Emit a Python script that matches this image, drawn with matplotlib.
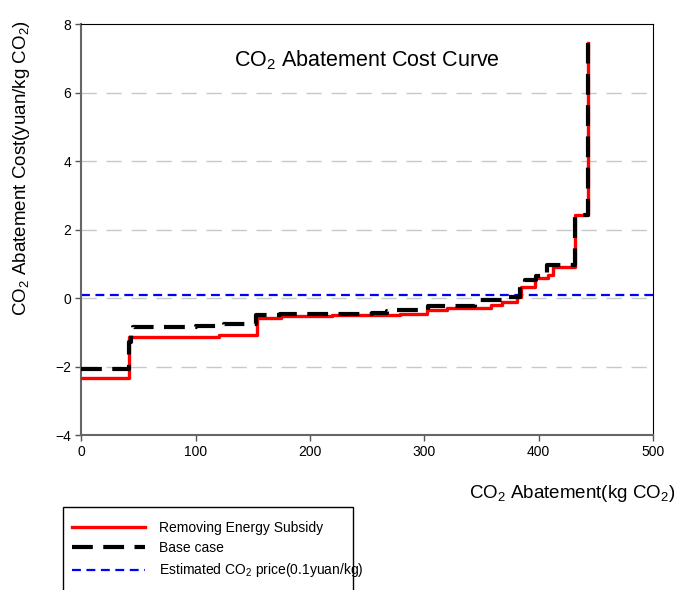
import numpy as np
import matplotlib
matplotlib.use("Agg")
import matplotlib.pyplot as plt
from matplotlib.patches import Rectangle

plt.rcParams["font.family"] = ["Liberation Sans", "DejaVu Sans"]
plt.rcParams["mathtext.fontset"] = "custom"
plt.rcParams["mathtext.rm"] = "Liberation Sans"
plt.rcParams["mathtext.it"] = "Liberation Sans"

# step curves: abatement where each level starts, and the cost level
subsidy_x = [0, 41.5, 120, 154, 175, 219, 279, 302, 320, 358, 368, 381, 385, 397, 408, 413, 432, 443]
subsidy_y = [-2.33, -1.13, -1.08, -0.57, -0.52, -0.50, -0.45, -0.36, -0.30, -0.20, -0.10, 0.02,
             0.32, 0.60, 0.68, 0.90, 2.43, 7.45]

base_x = [0, 41.5, 43, 45, 100, 125, 153, 174, 254, 267, 276, 303, 344, 370, 384, 388, 398, 407, 432, 443]
base_y = [-2.06, -1.28, -1.05, -0.84, -0.81, -0.76, -0.48, -0.45, -0.43, -0.38, -0.35, -0.23,
          -0.06, 0.04, 0.38, 0.53, 0.64, 0.98, 2.43, 7.45]

co2_price = 0.1

x_ticks = [0, 100, 200, 300, 400, 500]
y_ticks = [-4, -2, 0, 2, 4, 6, 8]
grid_y = [-2, 0, 2, 4, 6]

labels = ["Removing Energy Subsidy", "Base case", "Estimated CO$_2$ price(0.1yuan/kg)"]


def main():
    fig = plt.figure(figsize=(6.78, 5.9), dpi=100)
    ax = fig.add_axes([0.120, 0.2627, 0.843, 0.696])

    for gy in grid_y:
        ax.axhline(gy, color="#c8c8c8", lw=1.0, dashes=(11, 7), zorder=0)

    l_price = ax.axhline(co2_price, color="#0000ff", lw=1.6, dashes=(4, 2.5), zorder=2)
    l_sub, = ax.plot(subsidy_x, subsidy_y, drawstyle="steps-post", color="#ff0000", lw=2.4, zorder=3)
    l_base, = ax.plot(base_x, base_y, drawstyle="steps-post", color="black", lw=3.0,
                      dashes=(5, 2.5), zorder=4)

    ax.set_xlim(0, 500)
    ax.set_ylim(-4, 8)
    ax.set_xticks(x_ticks)
    ax.set_yticks(y_ticks)
    ax.tick_params(direction="out", length=4, width=1, labelsize=10, colors="#555555",
                   labelcolor="black", top=False, right=False)
    for side in ["left", "bottom"]:
        ax.spines[side].set_color("#666666")
        ax.spines[side].set_linewidth(1.5)
    for side in ["top", "right"]:
        ax.spines[side].set_color("black")
        ax.spines[side].set_linewidth(0.8)

    ax.text(0.5, 0.913, "CO$_2$ Abatement Cost Curve", transform=ax.transAxes,
            ha="center", va="center", fontsize=15.5)

    fig.text(0.844, 0.164, "CO$_2$ Abatement(kg CO$_2$)", ha="center", va="center", fontsize=13.5)
    fig.text(0.032, 0.715, "CO$_2$ Abatement Cost(yuan/kg CO$_2$)", ha="center", va="center",
             rotation=90, fontsize=13.5)

    # legend box sits below the axes and runs off the bottom edge
    fig.add_artist(Rectangle((0.093, -0.02), 0.428, 0.161, transform=fig.transFigure,
                             fill=False, edgecolor="black", lw=1.0))
    fig.legend([l_sub, l_base, l_price], labels, loc="upper left",
               bbox_to_anchor=(0.106, 0.117), frameon=False, fontsize=10,
               handlelength=5.3, handletextpad=1.0, labelspacing=0.45,
               borderpad=0, borderaxespad=0)

    fig.savefig("out.png", dpi=100)


if __name__ == "__main__":
    main()
